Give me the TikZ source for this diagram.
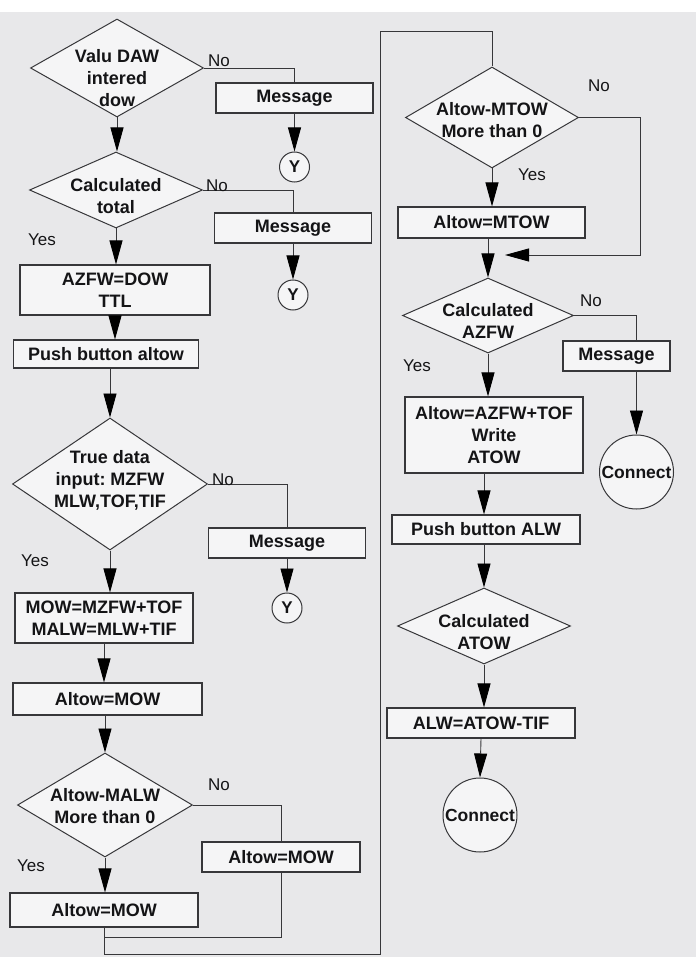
\documentclass[tikz,border=0pt]{standalone}
\usepackage{fontspec}
\setmainfont{Liberation Sans}
\usetikzlibrary{shapes.geometric,arrows.meta}
\definecolor{paper}{RGB}{232,232,234}
\definecolor{boxfill}{RGB}{245,245,246}
\definecolor{ink}{RGB}{55,55,58}
\definecolor{txt}{RGB}{20,20,22}

\begin{document}
\frenchspacing
\begin{tikzpicture}[x=1pt,y=-1pt,
  every node/.style={text=txt},
  boxnode/.style={draw=ink, line width=1.1pt, fill=boxfill, inner sep=0pt,
    align=center, font=\bfseries\fontsize{18}{22}\selectfont},
  decision/.style={diamond, draw=ink, line width=1pt, fill=boxfill, inner sep=0pt},
  dtext/.style={inner sep=0pt, align=center, font=\bfseries\fontsize{18}{22}\selectfont},
  ycirc/.style={circle, draw=ink, line width=1pt, fill=boxfill, inner sep=0pt,
    minimum size=30pt, font=\bfseries\fontsize{17}{20}\selectfont},
  ccirc/.style={circle, draw=ink, line width=1pt, fill=boxfill, inner sep=0pt,
    minimum size=74pt, font=\bfseries\fontsize{17.5}{20}\selectfont},
  lbl/.style={inner sep=0pt, font=\fontsize{17}{20}\selectfont},
  wire/.style={draw=ink, line width=0.9pt},
  flow/.style={wire, -{Triangle[length=24pt,width=13pt,color=black]}}
]
% page
\fill[white] (0,0) rectangle (696,957);
\fill[paper] (0,12) rectangle (696,957);
\useasboundingbox (0,0) rectangle (696,957);

% ---- left column ----
\node[decision, minimum width=173pt, minimum height=98pt] (d1) at (117,68) {};
\node[dtext] (d1t) at (117,78) {Valu DAW\\intered\\dow};
\node[boxnode, minimum width=157pt, minimum height=30pt] (m1) at (294.5,98) {Message};
\node[ycirc] (y1) at (294.5,167) {Y};

\node[decision, minimum width=173pt, minimum height=76pt] (d2) at (116,190) {};
\node[dtext] (d2t) at (116,196) {Calculated\\total};
\node[boxnode, minimum width=157pt, minimum height=30pt] (m2) at (293,228) {Message};
\node[ycirc] (y2) at (293,295) {Y};

\node[boxnode, minimum width=190pt, minimum height=50pt] (b1) at (115,290) {AZFW=DOW\\TTL};
\node[boxnode, minimum width=185pt, minimum height=28pt] (b2) at (106,354) {Push button altow};

\node[decision, minimum width=195pt, minimum height=132pt] (d3) at (110,484) {};
\node[dtext] (d3t) at (110,480) {True data\\input: MZFW\\MLW,TOF,TIF};
\node[boxnode, minimum width=157pt, minimum height=30pt] (m3) at (287,543) {Message};
\node[ycirc] (y3) at (287,608) {Y};

\node[boxnode, minimum width=178pt, minimum height=50pt] (b3) at (104,618) {MOW=MZFW+TOF\\MALW=MLW+TIF};
\node[boxnode, minimum width=189pt, minimum height=32pt] (b4) at (107.5,699) {Altow=MOW};

\node[decision, minimum width=175pt, minimum height=104pt] (d4) at (105,805) {};
\node[dtext] (d4t) at (105,806) {Altow-MALW\\More than 0};
\node[boxnode, minimum width=158pt, minimum height=30pt] (b5) at (281,857) {Altow=MOW};
\node[boxnode, minimum width=188pt, minimum height=34pt] (b6) at (104,910) {Altow=MOW};

% ---- right column ----
\node[decision, minimum width=173pt, minimum height=101pt] (d5) at (492,117.5) {};
\node[dtext] (d5t) at (492,120) {Altow-MTOW\\More than 0};
\node[boxnode, minimum width=187pt, minimum height=31pt] (b7) at (491.5,222.5) {Altow=MTOW};

\node[decision, minimum width=171pt, minimum height=75pt] (d6) at (488,315.5) {};
\node[dtext] (d6t) at (488,321) {Calculated\\AZFW};
\node[boxnode, minimum width=107pt, minimum height=30pt] (m4) at (616.5,356) {Message};
\node[ccirc] (c1) at (636.5,472) {Connect};

\node[boxnode, minimum width=178pt, minimum height=76pt] (b8) at (494,435) {Altow=AZFW+TOF\\Write\\ATOW};
\node[boxnode, minimum width=188pt, minimum height=29pt] (b9) at (486,529.5) {Push button ALW};

\node[decision, minimum width=173pt, minimum height=76pt] (d7) at (484,626) {};
\node[dtext] (d7t) at (484,632) {Calculated\\ATOW};
\node[boxnode, minimum width=188pt, minimum height=30pt] (b10) at (481,723) {ALW=ATOW-TIF};
\node[ccirc] (c2) at (480,815) {Connect};

% route points of the loop-back lines
\coordinate (j1) at (104,937);
\coordinate (j2) at (104,954);
\coordinate (j3) at (380,954);
\coordinate (j4) at (380,31);
\coordinate (j5) at (492,31);
\coordinate (k1) at (640,255);
\coordinate (k2) at (505,255);

% ---- connectors, left column ----
\draw[flow] (d1.south) -- (d1.south |- d2.north);
\draw[wire] (d1.east) -| (m1.north);
\draw[flow] (m1.south) -- (y1.north);

\draw[flow] (d2.south) -- (d2.south |- b1.north);
\draw[wire] (d2.east) -| (m2.north);
\draw[flow] (m2.south) -- (y2.north);

\draw[flow] (b1.south) -- (b1.south |- b2.north);
\draw[flow] (d3.north |- b2.south) -- (d3.north);
\draw[wire] (d3.east) -| (m3.north);
\draw[flow] (m3.south) -- (y3.north);

\draw[flow] (d3.south) -- (d3.south |- b3.north);
\draw[flow] (b3.south) -- (b3.south |- b4.north);
\draw[flow] (d4.north |- b4.south) -- (d4.north);
\draw[wire] (d4.east) -| (b5.north);
\draw[flow] (d4.south) -- (d4.south |- b6.north);
\draw[wire] (b5.south) |- (j1);
\draw[wire] (b6.south) -- (j2) -- (j3) -- (j4) -- (j5) -- (d5.north);

% ---- connectors, right column ----
\draw[flow] (d5.south) -- (d5.south |- b7.north);
\draw[flow] (d5.east) -| (k1) -- (k2);
\draw[flow] (d6.north |- b7.south) -- (d6.north);
\draw[wire] (d6.east) -| ([xshift=20pt]m4.north);
\draw[flow] ([xshift=20pt]m4.south) -- (c1.north);
\draw[flow] (d6.south) -- (d6.south |- b8.north);
\draw[flow] (d7.north |- b8.south) -- (d7.north |- b9.north);
\draw[flow] (d7.north |- b9.south) -- (d7.north);
\draw[flow] (d7.south) -- (d7.south |- b10.north);
\draw[flow] (b10.south) -- (c2.north);

% ---- branch labels ----
\node[lbl] (n1) at (219,61) {No};
\node[lbl] (n2) at (217,186) {No};
\node[lbl] (s2) at (42,240) {Yes};
\node[lbl] (n3) at (223,480) {No};
\node[lbl] (s3) at (35,561) {Yes};
\node[lbl] (n4) at (219,785) {No};
\node[lbl] (s4) at (31,866) {Yes};
\node[lbl] (n5) at (599,86) {No};
\node[lbl] (s5) at (532,175) {Yes};
\node[lbl] (n6) at (591,301) {No};
\node[lbl] (s6) at (417,366) {Yes};
\end{tikzpicture}
\end{document}
